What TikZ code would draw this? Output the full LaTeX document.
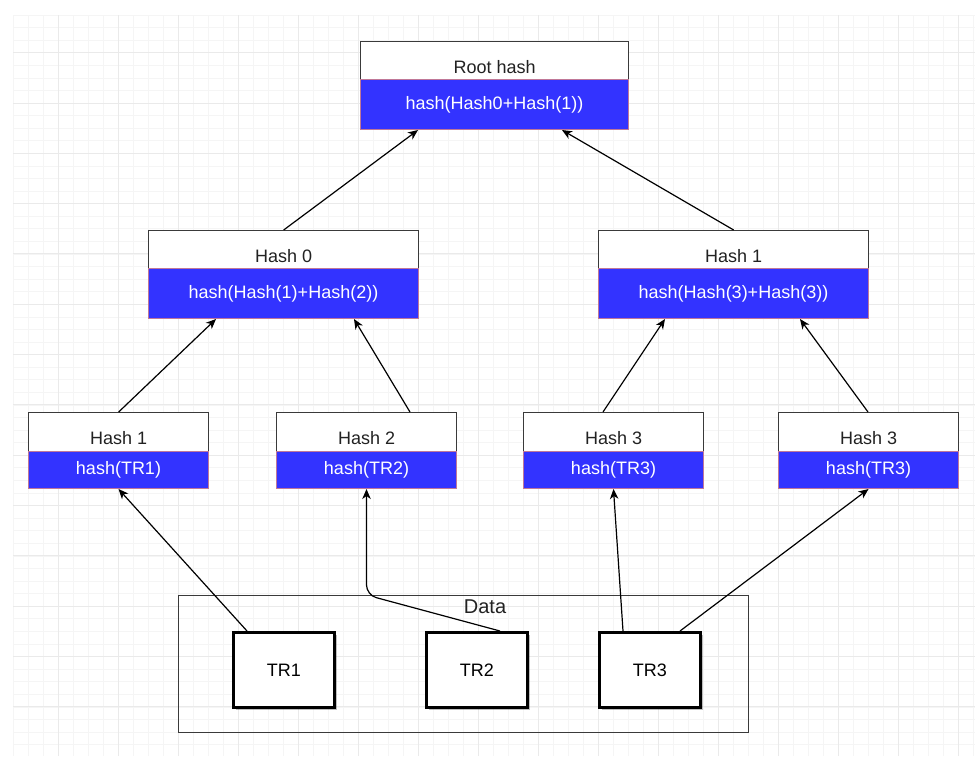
\documentclass[tikz,border=0pt]{standalone}
\usepackage{fontspec}
\setmainfont{Liberation Sans}
\usetikzlibrary{arrows.meta,calc,shadows}
\definecolor{hblue}{HTML}{3333FF}
\definecolor{bborder}{HTML}{C07898}
\definecolor{hdrline}{HTML}{3A3A3A}
\definecolor{textgray}{HTML}{222222}
\definecolor{gridminor}{HTML}{F5F5F5}
\definecolor{gridmajor}{HTML}{EAEAEA}
\tikzset{
  hdr/.style={draw=hdrline, line width=1.3pt, fill=white, minimum height=38pt,
    text height=25pt, text depth=0pt, inner sep=0pt, anchor=north west,
    font=\fontsize{18}{20}\selectfont, text=textgray},
  hashbox/.style={draw=bborder, line width=1pt, fill=hblue, text=white, inner sep=0pt,
    anchor=north west, font=\fontsize{18}{20}\selectfont},
  trbox/.style={draw=black, line width=2.6pt, fill=white, inner sep=0pt, anchor=north west,
    minimum width=101pt, minimum height=75pt, font=\fontsize{18}{20}\selectfont,
    drop shadow={shadow xshift=2.5pt, shadow yshift=-2.5pt, fill=black, opacity=0.25}},
  databox/.style={draw=hdrline, line width=1.3pt, inner sep=0pt, anchor=north west,
    minimum width=570pt, minimum height=137pt},
  arr/.style={draw=black, line width=1.2pt, -{Stealth[length=10pt,width=8.5pt,inset=3pt]}},
}
\begin{document}
\begin{tikzpicture}[x=1pt,y=-1pt]
\useasboundingbox (0,0) rectangle (975,756);
\fill[white] (0,0) rectangle (975,756);
% grid
\begin{scope}
\clip (13,15) rectangle (975,756);
\foreach \i in {0,...,64} \draw[gridminor, line width=0.8pt] ({13+15*\i},15) -- ({13+15*\i},756);
\foreach \i in {0,...,59} \draw[gridminor, line width=0.8pt] (13,{15+12.58*\i}) -- (975,{15+12.58*\i});
\foreach \k in {0,...,15} \draw[gridmajor, line width=1pt] ({58+60*\k},15) -- ({58+60*\k},756);
\foreach \k in {0,...,13} \draw[gridmajor, line width=1pt] (13,{52.7+50.3*\k}) -- (975,{52.7+50.3*\k});
\end{scope}

% Root
\node[hdr, minimum width=268pt] (rooth) at (360,41) {Root hash};
\node[hashbox, minimum width=268pt, minimum height=50pt] (rootb) at (360,79) {hash(Hash0+Hash(1))};
% Level 2
\node[hdr, minimum width=270pt] (h0h) at (148,230) {Hash 0};
\node[hashbox, minimum width=270pt, minimum height=50pt] (h0b) at (148,268) {hash(Hash(1)+Hash(2))};
\node[hdr, minimum width=270pt] (h1h) at (598,230) {Hash 1};
\node[hashbox, minimum width=270pt, minimum height=50pt] (h1b) at (598,268) {hash(Hash(3)+Hash(3))};
% Leaves
\node[hdr, minimum width=180pt, minimum height=39pt] (l1h) at (28,412) {Hash 1};
\node[hashbox, minimum width=180pt, minimum height=37pt] (l1b) at (28,451) {hash(TR1)};
\node[hdr, minimum width=180pt, minimum height=39pt] (l2h) at (276,412) {Hash 2};
\node[hashbox, minimum width=180pt, minimum height=37pt] (l2b) at (276,451) {hash(TR2)};
\node[hdr, minimum width=180pt, minimum height=39pt] (l3h) at (523,412) {Hash 3};
\node[hashbox, minimum width=180pt, minimum height=37pt] (l3b) at (523,451) {hash(TR3)};
\node[hdr, minimum width=180pt, minimum height=39pt] (l4h) at (778,412) {Hash 3};
\node[hashbox, minimum width=180pt, minimum height=37pt] (l4b) at (778,451) {hash(TR3)};
% Data
\node[databox] (data) at (178,595) {};
\node[font=\fontsize{20}{22}\selectfont, text=textgray, inner sep=0pt] (datalbl) at (485,607) {Data};
\node[trbox] (tr1) at (232,631) {TR1};
\node[trbox] (tr2) at (425,631) {TR2};
\node[trbox] (tr3) at (598,631) {TR3};

% arrows
\draw[arr] (h0h.north) -- ($(rootb.south west)+(58,0)$);
\draw[arr] (h1h.north) -- ($(rootb.south west)+(202,0)$);
\draw[arr] (l1h.north) -- ($(h0b.south west)+(68,0)$);
\draw[arr] ($(l2h.north west)+(134,0)$) -- ($(h0b.south west)+(206,0)$);
\draw[arr] ($(l3h.north west)+(80,0)$) -- ($(h1b.south west)+(67,0)$);
\draw[arr] ($(l4h.north west)+(90,0)$) -- ($(h1b.south west)+(202,0)$);
\draw[arr] ($(tr1.north west)+(15,0)$) -- (l1b.south);
\coordinate (bend2) at (l2b.south |- data.north);
\draw[arr, rounded corners=10pt] ($(tr2.north west)+(75,0)$) -- (bend2) -- (l2b.south);
\draw[arr] ($(tr3.north west)+(25,0)$) -- (l3b.south);
\draw[arr] ($(tr3.north west)+(82,0)$) -- (l4b.south);
\end{tikzpicture}
\end{document}
